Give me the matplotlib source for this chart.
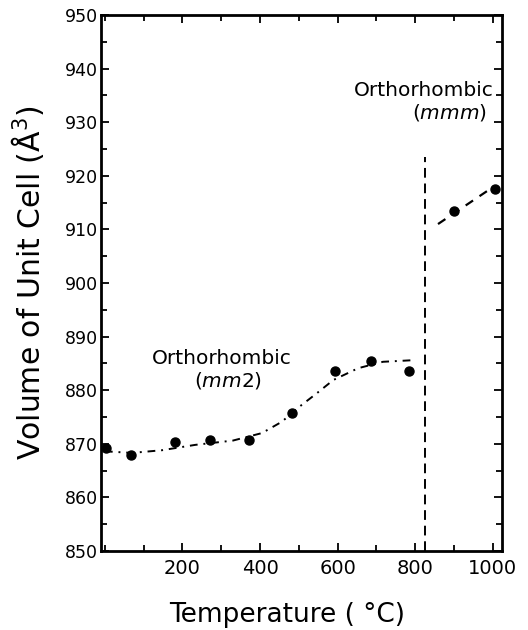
import numpy as np
import matplotlib.pyplot as plt
from matplotlib.ticker import MultipleLocator, FixedLocator

# measured points, orthorhombic mm2 phase
temp_mm2 = [3, 68, 182, 271, 372, 483, 594, 686, 783]
vol_mm2 = [869.2, 867.9, 870.4, 870.8, 870.7, 875.7, 883.6, 885.4, 883.5]

# measured points, orthorhombic mmm phase
temp_mmm = [900, 1005]
vol_mmm = [913.4, 917.5]

# guide curves
fit_mm2_t = [0, 70, 147, 233, 330, 405, 456, 503, 546, 589, 653, 717, 795]
fit_mm2_v = [868.6, 868.3, 868.8, 869.8, 870.6, 872.0, 874.1, 877.0, 879.4, 881.9, 884.1, 885.3, 885.6]
fit_mmm_t = [859, 1003]
fit_mmm_v = [911.0, 918.0]

# phase transition
t_trans = 825
v_trans_top = 923.5

fig = plt.figure(figsize=(5.28, 6.3), dpi=100)
ax = fig.add_axes([101/528, 1 - 551/630, 401/528, 536/630])

ax.plot(fit_mm2_t, fit_mm2_v, color='black', lw=1.4, linestyle=(0, (4, 3, 1, 3)))
ax.plot(fit_mmm_t, fit_mmm_v, color='black', lw=1.6, linestyle=(0, (4, 3.5)))
ax.plot([t_trans, t_trans], [850, v_trans_top], color='black', lw=1.4, linestyle=(0, (5, 3)))

ax.plot(temp_mm2, vol_mm2, 'o', color='black', ms=6.5, clip_on=False)
ax.plot(temp_mmm, vol_mmm, 'o', color='black', ms=6.5, clip_on=False)

ax.set_xlim(-10, 1024)
ax.set_ylim(850, 950)

ax.xaxis.set_major_locator(FixedLocator([200, 400, 600, 800, 1000]))
ax.xaxis.set_minor_locator(MultipleLocator(100))
ax.yaxis.set_major_locator(MultipleLocator(10))
ax.yaxis.set_minor_locator(MultipleLocator(5))

ax.tick_params(which='both', direction='in', top=True, right=True, width=1.3)
ax.tick_params(which='major', length=6)
ax.tick_params(which='minor', length=4)
ax.tick_params(axis='x', labelsize=14, pad=6)
ax.tick_params(axis='y', labelsize=12.5, pad=2.5)

for sp in ax.spines.values():
    sp.set_linewidth(2)

ax.set_xlabel('Temperature ( °C)', fontsize=19)
ax.xaxis.label.set_va('baseline')
ax.xaxis.set_label_coords(0.465, -0.1325)

ax.set_ylabel('Volume of Unit Cell (Å$^3$)', fontsize=21.5)
ax.yaxis.label.set_va('baseline')
ax.yaxis.set_label_coords(-0.152, 0.5)

ax.text(302, 884.9, 'Orthorhombic', fontsize=14.5, ha='center', va='baseline')
ax.text(318, 880.6, '($\\mathit{mm2}$)', fontsize=14.5, ha='center', va='baseline')
ax.text(1003, 934.9, 'Orthorhombic', fontsize=14.5, ha='right', va='baseline')
ax.text(985, 930.6, '($\\mathit{mmm}$)', fontsize=14.5, ha='right', va='baseline')

fig.savefig('out.png', dpi=100)
